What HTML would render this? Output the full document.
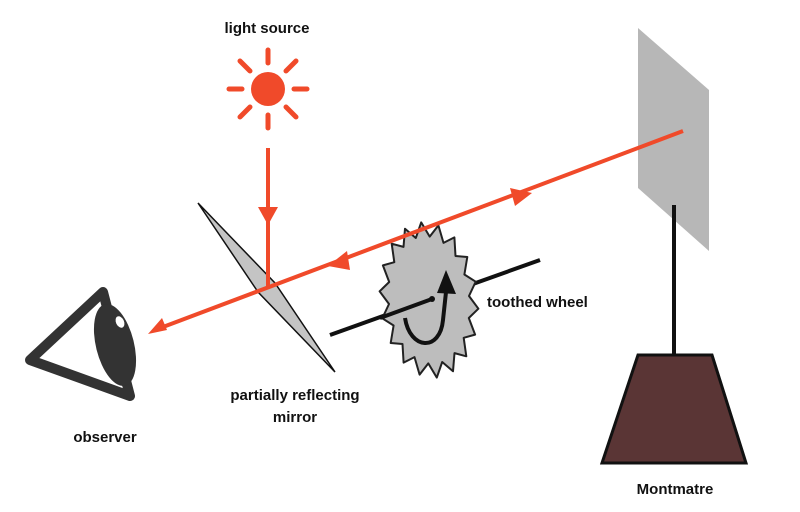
<!DOCTYPE html>
<html><head><style>
html,body{margin:0;padding:0;background:#fff;}
svg{display:block}
text{font-family:"Liberation Sans",sans-serif;font-weight:bold;font-size:15px;fill:#111}
</style></head><body>
<svg width="800" height="512" viewBox="0 0 800 512" xmlns="http://www.w3.org/2000/svg">
<rect width="800" height="512" fill="#fff"/>
<polygon points="638,28 709,90 709,251 638,188" fill="#b7b7b7"/>
<line x1="674" y1="205" x2="674" y2="356" stroke="#111" stroke-width="4"/>
<polygon points="638,355 712,355 746,463 602,463" fill="#5a3535" stroke="#111" stroke-width="3"/>
<g stroke="#f04a2a" stroke-width="5" stroke-linecap="round">
<circle cx="268" cy="89" r="17" fill="#f04a2a" stroke="none"/>
<line x1="268" y1="50" x2="268" y2="63"/>
<line x1="268" y1="115" x2="268" y2="128"/>
<line x1="229" y1="89" x2="242" y2="89"/>
<line x1="294" y1="89" x2="307" y2="89"/>
<line x1="240" y1="61" x2="250" y2="71"/>
<line x1="286" y1="107" x2="296" y2="117"/>
<line x1="296" y1="61" x2="286" y2="71"/>
<line x1="250" y1="107" x2="240" y2="117"/>
</g>
<polygon points="198,203 275,283 335,372 258,292" fill="#c4c4c4" stroke="#111" stroke-width="1.5"/>
<line x1="330" y1="335" x2="540" y2="260" stroke="#111" stroke-width="4"/>
<polygon id="gear" fill="#bdbdbd" stroke="#222" stroke-width="2" stroke-linejoin="round"/>
<line x1="380" y1="318" x2="432" y2="299" stroke="#111" stroke-width="4"/>
<circle cx="432" cy="299" r="3" fill="#111"/>
<path d="M405,318 C410,350 440,352 443,320 L446,292" fill="none" stroke="#111" stroke-width="4"/>
<polygon points="437,293 446,270 456,294" fill="#111"/>
<g stroke="#f04a2a" stroke-width="4" fill="#f04a2a">
<line x1="268" y1="148" x2="268" y2="288"/>
<line x1="683" y1="131" x2="155" y2="330"/>
</g>
<polygon points="258,207 278,207 268,225" fill="#f04a2a"/>
<polygon points="510,188 532,193 515,206" fill="#f04a2a"/>
<polygon points="328,266 347,251 350,270" fill="#f04a2a"/>
<polygon points="148,334 162,318 167,330" fill="#f04a2a"/>
<polygon points="103,292 30,360 130,396" fill="none" stroke="#333" stroke-width="10" stroke-linejoin="round"/>
<ellipse cx="115" cy="345" rx="19" ry="42" transform="rotate(-14 115 345)" fill="#333"/>
<ellipse cx="120" cy="322" rx="4" ry="6" transform="rotate(-25 120 322)" fill="#fff"/>
<text x="267" y="33" text-anchor="middle">light source</text>
<text x="487" y="307">toothed wheel</text>
<text x="295" y="400" text-anchor="middle">partially reflecting</text>
<text x="295" y="422" text-anchor="middle">mirror</text>
<text x="105" y="442" text-anchor="middle">observer</text>
<text x="675" y="494" text-anchor="middle">Montmatre</text>
</svg>
<script>
var p=[],cx=429,cy=300,n=18;
for(var i=0;i<n*2;i++){var a=i*Math.PI/n,r=(i%2?1:0.82);
var x=49*r*Math.cos(a),y=78*r*Math.sin(a);
var t=-0.1;p.push((cx+x*Math.cos(t)-y*Math.sin(t)).toFixed(1)+","+(cy+x*Math.sin(t)+y*Math.cos(t)).toFixed(1));}
document.getElementById('gear').setAttribute('points',p.join(' '));
</script>
</body></html>
